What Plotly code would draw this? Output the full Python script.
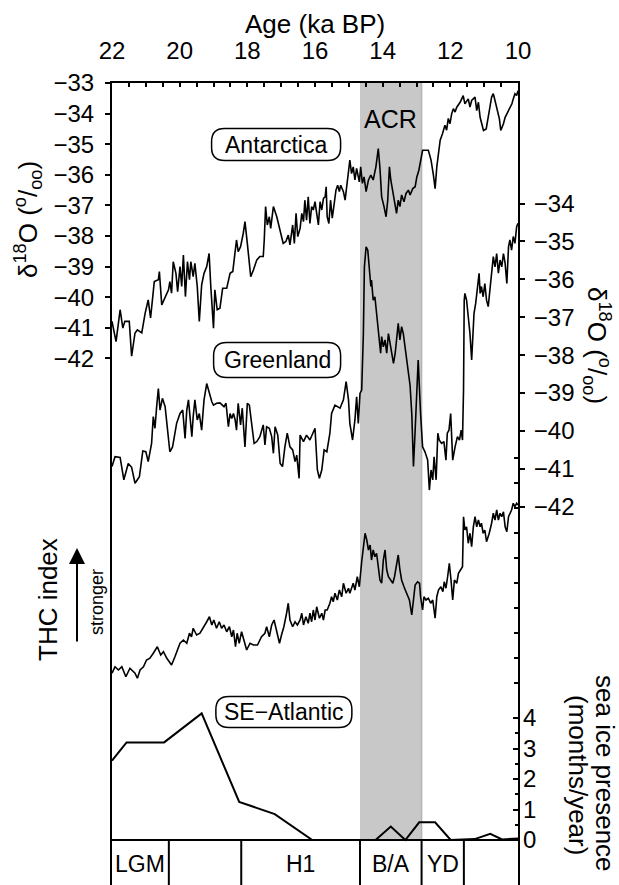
import plotly.graph_objects as go

# ---------------- data ----------------
# Antarctica δ18O (‰), age in ka BP
ant_age = [22.00, 21.88, 21.76, 21.68, 21.62, 21.49, 21.42, 21.32, 21.25, 21.12, 21.02, 20.93, 20.86,
           20.80, 20.75, 20.63, 20.60, 20.53, 20.43, 20.33, 20.29, 20.24, 20.19, 20.11, 20.06, 19.99,
           19.94, 19.89, 19.83, 19.77, 19.71, 19.67, 19.60, 19.55, 19.48, 19.42, 19.35, 19.28, 19.20,
           19.13, 19.08, 19.00, 18.96, 18.89, 18.81, 18.73, 18.61, 18.51, 18.43, 18.36, 18.32, 18.27,
           18.20, 18.12, 18.07, 18.00, 17.90, 17.82, 17.72, 17.63, 17.53, 17.50, 17.46, 17.41, 17.35,
           17.31, 17.23, 17.13, 17.03, 16.94, 16.86, 16.79, 16.74, 16.66, 16.61, 16.56, 16.51, 16.44,
           16.39, 16.34, 16.30, 16.25, 16.20, 16.15, 16.10, 16.05, 16.00, 15.95, 15.90, 15.85, 15.80,
           15.75, 15.70, 15.67, 15.64, 15.59, 15.54, 15.49, 15.44, 15.38, 15.33, 15.28, 15.24, 15.16,
           15.11, 15.06, 15.01, 14.97, 14.92, 14.87, 14.82, 14.77, 14.69, 14.65, 14.60, 14.55, 14.49,
           14.42, 14.35, 14.28, 14.20, 14.13, 14.08, 14.03, 13.96, 13.90, 13.85, 13.80, 13.76, 13.70,
           13.65, 13.59, 13.54, 13.49, 13.44, 13.37, 13.31, 13.24, 13.19, 13.11, 13.04, 12.99, 12.93,
           12.88, 12.82, 12.65, 12.57, 12.50, 12.45, 12.40, 12.35, 12.30, 12.23, 12.16, 12.11, 12.06,
           12.01, 11.96, 11.91, 11.86, 11.81, 11.71, 11.62, 11.57, 11.47, 11.42, 11.37, 11.27, 11.22,
           11.17, 11.12, 11.07, 11.02, 10.94, 10.88, 10.83, 10.78, 10.73, 10.68, 10.63, 10.55, 10.51,
           10.43, 10.38, 10.29, 10.18, 10.14, 10.09, 10.04, 10.00]
ant_d18o = [-40.79, -41.45, -40.41, -41.01, -40.79, -40.79, -41.93, -41.17, -41.07, -41.17, -40.52, -40.09, -40.68,
            -39.87, -39.49, -39.43, -39.16, -40.25, -39.98, -39.76, -39.49, -39.87, -38.84, -39.22, -39.82, -39.00,
            -39.65, -38.62, -39.98, -38.84, -39.43, -38.84, -39.33, -38.89, -39.65, -40.79, -39.60, -39.22, -39.00,
            -38.57, -39.65, -41.01, -39.76, -40.41, -40.36, -39.71, -39.71, -39.22, -39.16, -38.57, -38.13, -38.51,
            -38.35, -37.91, -37.53, -38.24, -39.33, -39.11, -38.78, -38.67, -38.67, -38.13, -37.04, -37.64, -37.37,
            -37.75, -37.04, -37.37, -37.86, -38.24, -38.18, -37.97, -38.29, -37.64, -38.24, -37.26, -38.02, -37.75,
            -37.26, -37.53, -36.83, -37.48, -36.72, -37.59, -37.04, -37.15, -36.88, -37.32, -37.64, -36.88, -37.15,
            -36.77, -36.72, -36.39, -37.37, -37.59, -36.83, -37.42, -36.99, -36.50, -36.34, -36.55, -36.34, -36.55,
            -36.83, -36.39, -35.79, -35.52, -35.96, -35.74, -36.17, -35.79, -36.23, -35.74, -36.28, -36.07, -36.55,
            -36.17, -36.01, -36.17, -35.74, -35.14, -35.79, -36.72, -37.04, -37.37, -36.83, -35.74, -36.17, -36.61,
            -36.93, -37.26, -36.83, -37.04, -36.66, -36.88, -36.61, -36.50, -36.66, -36.45, -36.39, -36.07, -35.85,
            -35.58, -35.20, -35.20, -35.52, -36.01, -36.45, -35.74, -35.30, -34.87, -34.65, -34.38, -34.54, -34.16,
            -34.33, -34.00, -33.84, -33.95, -33.79, -33.63, -33.41, -33.68, -33.52, -33.79, -33.57, -33.46, -33.90,
            -33.63, -34.12, -34.33, -34.55, -34.50, -34.17, -33.79, -33.46, -33.35, -33.57, -33.79, -34.17, -34.55,
            -34.33, -34.12, -33.90, -33.68, -33.52, -33.35, -33.41, -33.25]

# Greenland δ18O (‰)
grl_age = [22.00, 21.91, 21.76, 21.65, 21.52, 21.42, 21.32, 21.19, 21.09, 21.00, 20.93, 20.83, 20.78,
           20.73, 20.68, 20.63, 20.58, 20.51, 20.43, 20.35, 20.29, 20.21, 20.09, 19.99, 19.91, 19.84,
           19.79, 19.74, 19.69, 19.64, 19.60, 19.55, 19.48, 19.42, 19.35, 19.28, 19.20, 19.12, 19.05,
           19.00, 18.91, 18.81, 18.69, 18.63, 18.56, 18.51, 18.46, 18.41, 18.36, 18.32, 18.27, 18.20,
           18.15, 18.07, 18.00, 17.94, 17.87, 17.80, 17.72, 17.63, 17.53, 17.48, 17.43, 17.35, 17.28,
           17.23, 17.18, 17.10, 17.03, 16.96, 16.89, 16.82, 16.74, 16.66, 16.59, 16.54, 16.47, 16.44,
           16.34, 16.25, 16.15, 16.00, 15.93, 15.87, 15.80, 15.73, 15.65, 15.56, 15.51, 15.41, 15.26,
           15.16, 15.08, 15.01, 14.97, 14.89, 14.82, 14.77, 14.72, 14.67, 14.62, 14.57, 14.54, 14.49,
           14.44, 14.39, 14.35, 14.33, 14.28, 14.23, 14.18, 14.13, 14.10, 14.06, 14.03, 13.98, 13.93,
           13.88, 13.83, 13.78, 13.73, 13.68, 13.63, 13.59, 13.54, 13.49, 13.44, 13.39, 13.34, 13.29,
           13.24, 13.19, 13.14, 13.11, 13.09, 13.04, 12.99, 12.95, 12.88, 12.82, 12.75, 12.67, 12.62,
           12.57, 12.52, 12.48, 12.42, 12.37, 12.33, 12.26, 12.19, 12.13, 12.09, 12.04, 11.99, 11.93,
           11.86, 11.79, 11.73, 11.68, 11.64, 11.61, 11.59, 11.57, 11.52, 11.47, 11.42, 11.37, 11.34,
           11.30, 11.25, 11.20, 11.15, 11.12, 11.08, 11.03, 10.98, 10.93, 10.88, 10.83, 10.78, 10.73,
           10.68, 10.63, 10.58, 10.53, 10.48, 10.43, 10.38, 10.33, 10.28, 10.24, 10.19, 10.14, 10.09,
           10.04, 10.00]
grl_d18o = [-40.94, -40.68, -40.70, -41.29, -40.86, -40.96, -41.38, -41.21, -40.53, -40.55, -40.81, -40.33, -39.62,
            -39.93, -39.36, -38.88, -39.45, -39.14, -39.36, -40.06, -40.55, -40.42, -39.80, -39.54, -39.45, -40.20,
            -39.45, -39.18, -39.71, -40.15, -39.62, -39.18, -39.71, -39.54, -39.98, -39.18, -38.75, -39.01, -39.23,
            -39.32, -39.27, -39.26, -39.36, -39.27, -39.89, -39.54, -39.67, -39.54, -39.71, -39.98, -39.27, -39.84,
            -39.40, -40.42, -39.27, -39.32, -39.89, -40.33, -40.28, -40.15, -39.84, -40.37, -39.89, -39.93, -40.15,
            -40.59, -39.89, -40.11, -40.86, -40.94, -40.42, -40.06, -40.42, -40.50, -40.81, -40.64, -41.25, -40.11,
            -40.28, -40.11, -40.24, -39.93, -41.03, -41.25, -41.03, -40.50, -40.55, -40.06, -39.54, -39.32, -39.40,
            -39.18, -38.70, -39.18, -39.80, -40.24, -39.71, -39.10, -39.80, -39.01, -38.92, -37.43, -35.67, -35.14,
            -35.23, -35.67, -36.19, -36.02, -36.55, -36.46, -36.90, -37.25, -37.60, -37.95, -37.51, -37.78, -37.60,
            -37.95, -37.43, -37.69, -37.87, -38.22, -37.95, -37.51, -37.16, -37.60, -37.25, -37.43, -37.78, -38.13,
            -38.48, -38.80, -39.54, -40.42, -40.94, -39.98, -39.10, -38.13, -39.54, -40.42, -40.55, -40.77, -41.56,
            -41.03, -41.29, -40.68, -41.29, -40.06, -40.24, -40.33, -40.28, -40.77, -40.06, -39.98, -39.54, -40.77,
            -40.42, -40.15, -40.24, -39.98, -40.24, -38.92, -36.55, -36.37, -36.55, -36.99, -37.43, -38.13, -37.43,
            -36.90, -36.63, -36.19, -35.84, -36.37, -36.19, -36.46, -36.11, -36.55, -36.72, -36.28, -35.84, -35.40,
            -35.67, -35.32, -35.84, -35.49, -35.67, -35.32, -35.58, -36.11, -35.14, -34.96, -35.23, -34.87, -35.05,
            -34.61, -34.52]

# THC index (arbitrary units)
thc_age = [22.00, 21.91, 21.81, 21.71, 21.59, 21.47, 21.32, 21.25, 21.17, 21.07, 20.98, 20.88, 20.78,
           20.66, 20.56, 20.48, 20.38, 20.24, 20.14, 19.99, 19.89, 19.79, 19.71, 19.65, 19.60, 19.50,
           19.40, 19.30, 19.20, 19.12, 19.05, 18.99, 18.91, 18.83, 18.76, 18.69, 18.61, 18.53, 18.46,
           18.41, 18.35, 18.30, 18.24, 18.17, 18.10, 18.02, 17.92, 17.82, 17.70, 17.58, 17.48, 17.43,
           17.35, 17.28, 17.21, 17.13, 17.05, 16.99, 16.92, 16.84, 16.79, 16.74, 16.66, 16.59, 16.52,
           16.44, 16.39, 16.34, 16.27, 16.20, 16.15, 16.10, 16.05, 16.00, 15.95, 15.87, 15.80, 15.75,
           15.70, 15.64, 15.56, 15.51, 15.46, 15.41, 15.34, 15.28, 15.21, 15.16, 15.08, 15.01, 14.97,
           14.87, 14.82, 14.75, 14.69, 14.62, 14.57, 14.52, 14.47, 14.42, 14.37, 14.33, 14.28, 14.23,
           14.18, 14.13, 14.08, 14.03, 13.98, 13.93, 13.88, 13.83, 13.76, 13.70, 13.65, 13.59, 13.54,
           13.49, 13.44, 13.37, 13.29, 13.21, 13.14, 13.09, 13.04, 12.97, 12.91, 12.88, 12.82, 12.78,
           12.72, 12.65, 12.58, 12.52, 12.45, 12.40, 12.35, 12.28, 12.22, 12.18, 12.13, 12.08, 12.03,
           11.98, 11.93, 11.88, 11.81, 11.76, 11.69, 11.64, 11.61, 11.57, 11.52, 11.47, 11.42, 11.37,
           11.32, 11.27, 11.22, 11.17, 11.12, 11.08, 11.03, 10.98, 10.93, 10.85, 10.78, 10.73, 10.68,
           10.63, 10.58, 10.53, 10.48, 10.43, 10.38, 10.33, 10.28, 10.24, 10.19, 10.14, 10.09, 10.04,
           10.00]
thc_index = [0.27, 0.53, 0.40, 0.53, 0.13, 0.47, 0.27, 0.07, 0.40, 0.53, 0.80, 0.87, 1.07,
             1.33, 1.00, 1.13, 0.87, 0.60, 0.93, 1.47, 1.60, 1.47, 1.87, 1.73, 2.07, 1.80,
             1.87, 2.13, 2.33, 2.53, 2.20, 2.40, 2.07, 2.33, 2.07, 2.20, 1.93, 2.13, 1.73,
             2.00, 1.33, 1.87, 1.47, 1.93, 1.60, 1.20, 1.47, 1.40, 1.40, 1.73, 1.87, 2.13,
             1.73, 2.20, 2.40, 1.87, 1.47, 1.80, 2.13, 2.67, 3.07, 2.40, 2.13, 2.33, 2.20,
             2.40, 2.67, 2.20, 2.53, 2.27, 2.67, 2.33, 2.80, 2.40, 2.93, 2.47, 2.67, 2.40,
             2.80, 2.80, 3.07, 3.33, 3.13, 3.47, 3.20, 3.60, 3.33, 3.87, 3.47, 3.67, 3.47,
             3.87, 3.60, 4.13, 3.73, 4.73, 5.33, 5.87, 5.60, 5.20, 5.40, 4.80, 5.20, 4.93,
             5.07, 4.53, 4.00, 3.87, 4.80, 5.20, 4.40, 4.13, 4.00, 3.87, 4.13, 4.67, 5.00,
             4.40, 4.00, 3.73, 3.47, 3.20, 2.60, 3.33, 3.80, 3.93, 3.87, 3.33, 2.80, 3.33,
             3.20, 3.27, 3.07, 3.20, 2.47, 3.33, 3.60, 3.73, 3.53, 3.93, 3.67, 4.13, 4.67,
             4.00, 3.20, 4.00, 3.87, 4.27, 4.40, 4.53, 6.53, 6.00, 6.13, 5.47, 5.87, 5.33,
             6.13, 6.53, 6.13, 6.40, 6.13, 6.27, 5.87, 6.00, 5.53, 5.87, 6.27, 6.67, 6.40,
             6.80, 6.40, 6.67, 6.53, 6.73, 6.13, 5.93, 6.53, 6.67, 6.80, 7.07, 6.93, 7.07,
             7.00]

# SE-Atlantic sea ice presence (months/year)
ice_age = [22.00, 21.57, 20.46, 19.35, 18.24, 17.19, 16.08, 14.21, 13.76, 13.33, 12.92, 12.45, 11.99,
           11.28, 10.82, 10.47, 10.00]
ice_months = [2.6, 3.2, 3.2, 4.15, 1.25, 0.85, 0.00, 0.00, 0.44, 0.00, 0.58, 0.58, 0.00,
              0.03, 0.20, 0.02, 0.05]

# climate periods (ka BP boundaries) and labels
period_edges = [22.0, 20.32, 18.18, 14.67, 12.85, 11.6, 10.0]
period_labels = ["LGM", "", "H1", "B/A", "YD", ""]
acr_span = [14.67, 12.85]

age_ticks = [22, 20, 18, 16, 14, 12, 10]
ant_ticks = [-33, -34, -35, -36, -37, -38, -39, -40, -41, -42]
grl_ticks = [-34, -35, -36, -37, -38, -39, -40, -41, -42]
ice_ticks = [0, 1, 2, 3, 4]

# ---------------- figure ----------------
FONT = "Liberation Sans, Arial, Helvetica, sans-serif"
FS_TICK = 24
FS_LAB = 23
FS_TITLE = 26
W, H = 619, 885
ML, MR, MT, MB = 112, 101, 83, 0

fig = go.Figure()
line = dict(color="black", width=1.6)
fig.add_trace(go.Scatter(x=ant_age, y=ant_d18o, mode="lines", line=line, yaxis="y", showlegend=False))
fig.add_trace(go.Scatter(x=grl_age, y=grl_d18o, mode="lines", line=line, yaxis="y2", showlegend=False))
fig.add_trace(go.Scatter(x=thc_age, y=thc_index, mode="lines", line=line, yaxis="y3", showlegend=False))
fig.add_trace(go.Scatter(x=ice_age, y=ice_months, mode="lines", line=dict(color="black", width=2),
                         yaxis="y4", showlegend=False))

ice_range = [-1.475, 24.82]
thc_range = [-8.2, 23.88]

shapes = []
# ACR shading down to the period strip
shapes.append(dict(type="rect", xref="x", yref="y4", x0=acr_span[0], x1=acr_span[1],
                   y0=0, y1=ice_range[1], fillcolor="#c8c8c8", line=dict(width=0), layer="below"))
shapes.append(dict(type="line", xref="x", yref="y4", x0=acr_span[1], x1=acr_span[1],
                   y0=0, y1=ice_range[1], line=dict(color="#b4b4b4", width=1.5), layer="below"))
# period strip
shapes.append(dict(type="line", xref="x", yref="y4", x0=period_edges[0], x1=period_edges[-1],
                   y0=0, y1=0, line=dict(color="black", width=2)))
for e in period_edges[1:-1]:
    shapes.append(dict(type="line", xref="x", yref="y4", x0=e, x1=e, y0=0, y1=ice_range[0],
                       line=dict(color="black", width=2)))


def pill(w, h, r):
    a, b = w / 2, h / 2
    return (f"M {-a + r},{-b} L {a - r},{-b} Q {a},{-b} {a},{-b + r} L {a},{b - r} "
            f"Q {a},{b} {a - r},{b} L {-a + r},{b} Q {-a},{b} {-a},{b - r} "
            f"L {-a},{-b + r} Q {-a},{-b} {-a + r},{-b} Z")


def txt_font(size):
    return dict(size=size, family=FONT, color="black")


annotations = []
labels = [("Antarctica", 17.15, -35.01, "y", 129, 32),
          ("Greenland", 17.12, -38.13, "y2", 127, 35),
          ("SE−Atlantic", 16.92, 4.2, "y4", 136, 31)]
for txt, ax_, ay_, yr, bw, bh in labels:
    shapes.append(dict(type="path", xref="x", yref=yr, xsizemode="pixel", ysizemode="pixel",
                       xanchor=ax_, yanchor=ay_, path=pill(bw, bh, 13),
                       line=dict(color="black", width=1.5), fillcolor="white"))
    annotations.append(dict(x=ax_, y=ay_, xref="x", yref=yr, text=txt, showarrow=False,
                            xanchor="center", yanchor="middle", font=txt_font(FS_LAB)))

for lab, a0, a1 in zip(period_labels, period_edges[:-1], period_edges[1:]):
    if lab:
        annotations.append(dict(x=(a0 + a1) / 2, y=-0.78, xref="x", yref="y4", text=lab,
                                showarrow=False, xanchor="center", yanchor="middle",
                                font=txt_font(FS_LAB)))


def px(xp):
    return (xp - ML) / (W - ML - MR)


def py(yp):
    return (H - MB - yp) / (H - MT - MB)


def note(text, x, y, angle=0, size=FS_TITLE):
    return dict(x=px(x), y=py(y), xref="paper", yref="paper", text=text, textangle=angle,
                showarrow=False, xanchor="center", yanchor="middle", font=txt_font(size))


d18 = "δ<sup>18</sup>O (<sup>o</sup>/<sub>oo</sub>)"
annotations += [
    note("ACR", 390, 119, size=25),
    note("Age (ka BP)", 315, 24),
    note(d18, 28, 220, -90),
    note(d18, 597, 345, 90),
    note("THC index", 48, 600, -90),
    note("stronger", 97, 602, -90, size=18),
    note("sea ice presence", 605, 773, 90),
    note("(months/year)", 578, 775, 90),
    dict(x=px(77), y=py(548), xref="paper", yref="paper", text="", showarrow=True,
         ax=0, ay=95, arrowhead=2, arrowsize=1.6, arrowwidth=2, arrowcolor="black"),
]

tickfont = txt_font(FS_TICK)
common = dict(showgrid=False, zeroline=False, automargin=False, tickfont=tickfont,
              tickcolor="black", tickwidth=1.5)

thc_right_ticks = [k - 0.12 for k in range(0, 10)]
thc_left_ticks = [1.5, 3.9, 6.3, 8.9]

fig.update_layout(
    width=W, height=H, margin=dict(l=ML, r=MR, t=MT, b=MB, pad=0),
    paper_bgcolor="white", plot_bgcolor="white",
    font=dict(family=FONT, size=FS_TICK, color="black"),
    xaxis=dict(range=[22, 10], side="top", anchor="y", tickmode="array", tickvals=age_ticks,
               ticks="inside", ticklen=4, ticklabelstandoff=12, showline=True, linewidth=2,
               linecolor="black",
               minor=dict(dtick=0.5, tick0=10, ticks="inside", ticklen=4, tickwidth=1.5, tickcolor="black"),
               **common),
    yaxis=dict(range=[-59.21, -33], tickmode="array", tickvals=ant_ticks, ticks="outside", ticklen=5,
               ticklabelstandoff=6, showline=True, linewidth=2, linecolor="black", anchor="x", **common),
    yaxis2=dict(range=[-51.98, -30.82], overlaying="y", side="right", anchor="x", tickmode="array",
                tickvals=grl_ticks, ticks="outside", ticklen=5, ticklabelstandoff=4, showline=True,
                linewidth=2, linecolor="black", **common),
    yaxis3=dict(range=thc_range, overlaying="y", side="right", anchor="x", tickmode="array",
                tickvals=thc_right_ticks, ticks="inside", ticklen=4, showticklabels=False,
                showline=False, **common),
    yaxis4=dict(range=ice_range, overlaying="y", side="right", anchor="x", tickmode="array",
                tickvals=ice_ticks, ticks="inside", ticklen=5, ticklabelstandoff=4, showline=False,
                minor=dict(tickvals=[0.5, 1.5, 2.5, 3.5], ticks="inside", ticklen=3, tickwidth=1.5,
                           tickcolor="black"), **common),
    yaxis5=dict(range=thc_range, overlaying="y", side="left", anchor="x", tickmode="array",
                tickvals=thc_left_ticks, ticks="inside", ticklen=4, showticklabels=False,
                showline=False, **common),
    yaxis6=dict(range=ice_range, overlaying="y", side="left", anchor="x", tickmode="array",
                tickvals=ice_ticks + [0.5, 1.5, 2.5, 3.5], ticks="inside", ticklen=4,
                showticklabels=False, showline=False, **common),
    shapes=shapes, annotations=annotations,
)

fig.write_html("out.html")
